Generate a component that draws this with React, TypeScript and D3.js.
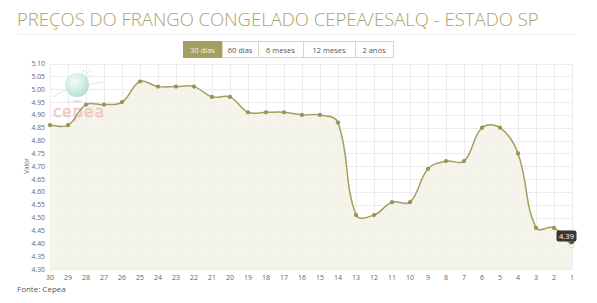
import React from "react";
import * as d3 from "d3";

const categories = ["30","29","28","27","26","25","24","23","22","21","20","19","18","17","16","15","14","13","12","11","10","9","8","7","6","5","4","3","2","1"];
const values = [4.86,4.86,4.94,4.94,4.95,5.03,5.01,5.01,5.01,4.97,4.97,4.91,4.91,4.91,4.90,4.90,4.87,4.51,4.51,4.56,4.56,4.69,4.72,4.72,4.85,4.85,4.75,4.46,4.46,4.39];
const yTicks = [4.30,4.35,4.40,4.45,4.50,4.55,4.60,4.65,4.70,4.75,4.80,4.85,4.90,4.95,5.00,5.05,5.10];
const buttons = ["30 dias","60 dias","6 meses","12 meses","2 anos"];
const buttonEdges = [183,222,258,303,355,393];

const W = 597, H = 303;
const left = 50, right = 572, top = 63.5, bottom = 269;
const olive = "#a39f62";
const font = "'Open Sans', sans-serif";

type P = [number, number];

// Chart.js-style spline (tension 0.4) built on d3.path
function splinePath(pts: P[], tension: number, closeTo?: number): string {
  const cps = pts.map((cur, i) => {
    const prev = i > 0 ? pts[i - 1] : cur;
    const next = i < pts.length - 1 ? pts[i + 1] : cur;
    const d01 = Math.hypot(cur[0] - prev[0], cur[1] - prev[1]);
    const d12 = Math.hypot(next[0] - cur[0], next[1] - cur[1]);
    let s01 = d01 / (d01 + d12), s12 = d12 / (d01 + d12);
    if (isNaN(s01)) s01 = 0;
    if (isNaN(s12)) s12 = 0;
    const fa = tension * s01, fb = tension * s12;
    return {
      prev: [cur[0] - fa * (next[0] - prev[0]), cur[1] - fa * (next[1] - prev[1])] as P,
      next: [cur[0] + fb * (next[0] - prev[0]), cur[1] + fb * (next[1] - prev[1])] as P,
    };
  });
  const p = d3.path();
  p.moveTo(pts[0][0], pts[0][1]);
  for (let i = 1; i < pts.length; i++) {
    const c1 = cps[i - 1].next, c2 = cps[i].prev;
    p.bezierCurveTo(c1[0], c1[1], c2[0], c2[1], pts[i][0], pts[i][1]);
  }
  if (closeTo !== undefined) {
    p.lineTo(pts[pts.length - 1][0], closeTo);
    p.lineTo(pts[0][0], closeTo);
    p.closePath();
  }
  return p.toString();
}

export default function App() {
  const x = d3.scalePoint<string>().domain(categories).range([left, right]);
  const y = d3.scaleLinear().domain([4.3, 5.1]).range([bottom, top]);
  const pts: P[] = values.map((v, i) => [x(categories[i])!, y(v)]);
  const linePath = splinePath(pts, 0.4);
  const areaPath = splinePath(pts, 0.4, bottom);
  const lastX = pts[pts.length - 1][0];
  const lastY = pts[pts.length - 1][1];
  return (
    <svg width={W} height={H} style={{ position: "absolute", left: 0, top: 0, background: "#fff" }}>
      <defs>
        <radialGradient id="globe" cx="40%" cy="35%" r="70%">
          <stop offset="0%" stopColor="#f2fbf8" />
          <stop offset="60%" stopColor="#c6e8dc" />
          <stop offset="100%" stopColor="#9fd5c3" />
        </radialGradient>
        <radialGradient id="shadow" cx="50%" cy="50%" r="50%">
          <stop offset="0%" stopColor="#c4c4c4" />
          <stop offset="100%" stopColor="#ffffff" stopOpacity={0} />
        </radialGradient>
      </defs>
      <text x={17} y={26} fontFamily={font} fontSize={18.5} fontWeight={300} fill="#a8a36c">PREÇOS DO FRANGO CONGELADO CEPEA/ESALQ - ESTADO SP</text>
      <line x1={17} x2={576} y1={34.5} y2={34.5} stroke="#eeeeee" />
      {buttons.map((b, i) => {
        const x0 = buttonEdges[i], x1 = buttonEdges[i + 1];
        const active = i === 0;
        return (
          <g key={b}>
            <rect x={x0 + 0.5} y={41.5} width={x1 - x0} height={16} fill={active ? "#a39f62" : "#fff"} stroke={active ? "#a39f62" : "#d9d7c4"} />
            <text x={(x0 + x1) / 2} y={52.5} textAnchor="middle" fontFamily={font} fontSize={7.5} fill={active ? "#f3f2e6" : "#555"}>{b}</text>
          </g>
        );
      })}
      {/* grid */}
      {yTicks.map(t => (
        <line key={"h" + t} x1={left} x2={right} y1={Math.round(y(t)) + 0.5} y2={Math.round(y(t)) + 0.5} stroke="#ececec" />
      ))}
      {categories.map(c => (
        <line key={"v" + c} x1={Math.round(x(c)!) + 0.5} x2={Math.round(x(c)!) + 0.5} y1={top} y2={bottom} stroke="#ececec" />
      ))}
      <path d={areaPath} fill="#f2f2e8" fillOpacity={0.85} />
      {/* watermark */}
      <g opacity={0.8}>
        <ellipse cx={77} cy={101.5} rx={11} ry={2.5} fill="url(#shadow)" />
        <path d="M54,97 Q62,88 104,82" fill="none" stroke="#e2e2e2" strokeWidth={1.2} />
        <circle cx={77} cy={85} r={12} fill="url(#globe)" />
        {[[83, 70], [86, 72], [88, 69], [85, 75], [89, 74], [82, 73], [87, 77], [90, 71]].map((d, i) => (
          <rect key={i} x={d[0]} y={d[1]} width={1.6} height={1.6} fill="#cfe9df" />
        ))}
        <text x={79} y={117} textAnchor="middle" fontFamily={font} fontSize={17} fill="#fbdcd8" stroke="#f2aaa2" strokeWidth={0.6} letterSpacing={1}>cepea</text>
      </g>
      <path d={linePath} fill="none" stroke={olive} strokeWidth={1.5} />
      {pts.map((p, i) => (
        <circle key={i} cx={p[0]} cy={p[1]} r={2.1} fill="#98934f" />
      ))}
      {/* axes labels */}
      {yTicks.map(t => (
        <text key={"yl" + t} x={45} y={y(t) + 2.5} textAnchor="end" fontFamily={font} fontSize={6.8} fill="#666">{t.toFixed(2)}</text>
      ))}
      {categories.map(c => (
        <text key={"xl" + c} x={x(c)} y={280} textAnchor="middle" fontFamily={font} fontSize={7} fill="#666">{c}</text>
      ))}
      <text transform={`translate(29,166) rotate(-90)`} textAnchor="middle" fontFamily={font} fontSize={6.5} fill="#666">Valor</text>
      <text x={17} y={292} fontFamily={font} fontSize={8} fill="#555">Fonte: Cepea</text>
      {/* tooltip */}
      <g>
        <rect x={556.5} y={230.5} width={20} height={11} rx={2} fill="#222" fillOpacity={0.9} />
        <path d={`M${lastX - 3},241.5 L${lastX},${lastY - 1} L${lastX + 3},241.5 Z`} fill="#222" fillOpacity={0.9} />
        <text x={566.5} y={238.8} textAnchor="middle" fontFamily={font} fontSize={7.5} fill="#fff">{values[values.length - 1].toFixed(2)}</text>
        <circle cx={lastX} cy={lastY} r={2} fill="#fff" stroke="#ccc" strokeWidth={0.5} />
      </g>
    </svg>
  );
}
